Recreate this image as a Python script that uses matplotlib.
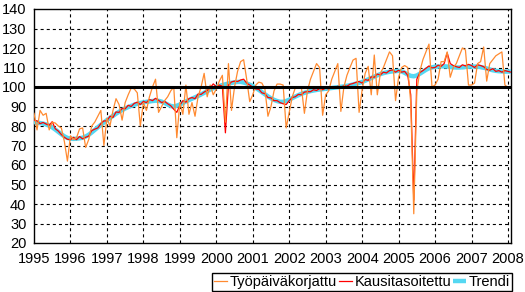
import numpy as np
import matplotlib
matplotlib.use("Agg")
import matplotlib.pyplot as plt

plt.rcParams['font.family'] = ['Liberation Sans', 'DejaVu Sans']
plt.rcParams['lines.scale_dashes'] = False

# Monthly data, Jan 1995 .. Feb 2008
tyopaiva = [
    86.5, 78.0, 88.0, 85.5, 86.5, 78.0, 82.0, 81.5, 80.0, 79.0, 72.0, 62.0,   # 1995
    75.0, 73.0, 74.0, 78.5, 79.0, 69.0, 73.0, 80.0, 82.0, 85.0, 88.0, 70.0,   # 1996
    84.0, 80.0, 88.0, 94.0, 91.0, 83.0, 92.0, 96.0, 99.5, 99.0, 97.0, 80.0,   # 1997
    92.0, 88.0, 95.0, 100.0, 104.0, 87.0, 90.0, 93.0, 95.0, 98.0, 100.0, 74.0,  # 1998
    92.0, 86.0, 101.0, 86.0, 92.0, 85.0, 95.0, 100.0, 107.0, 95.0, 101.0, 96.0,  # 1999
    99.0, 103.0, 106.0, 82.0, 112.0, 88.0, 100.0, 108.0, 113.0, 114.0, 104.0, 92.5,  # 2000
    96.0, 101.0, 102.5, 102.0, 99.0, 85.0, 90.0, 98.0, 101.5, 101.5, 101.0, 79.0,  # 2001
    87.0, 95.0, 99.5, 99.5, 100.0, 86.5, 98.0, 104.0, 108.0, 112.0, 110.0, 85.5,  # 2002
    96.0, 98.0, 104.0, 108.0, 112.0, 87.5, 100.0, 106.0, 110.0, 113.8, 114.7, 87.0,  # 2003
    98.5, 107.0, 110.6, 96.0, 116.4, 96.0, 107.0, 110.0, 114.0, 118.0, 116.0, 93.0,  # 2004
    105.0, 110.0, 111.0, 110.0, 92.0, 35.0, 98.0, 108.0, 114.0, 118.0, 122.0, 100.0,  # 2005
    101.0, 104.0, 113.0, 113.0, 118.0, 105.0, 110.0, 112.0, 116.0, 120.0, 119.0, 101.0,  # 2006
    101.0, 102.0, 112.0, 113.0, 120.5, 103.0, 112.0, 114.0, 116.0, 117.0, 118.0, 101.0,  # 2007
    99.8, 99.8,  # 2008
]
kausitasoitettu = [
    83.0, 82.6, 81.2, 81.8, 81.0, 80.4, 82.2, 78.6, 77.4, 75.6, 74.2, 73.2,
    73.0, 74.2, 73.0, 74.6, 73.4, 74.2, 74.8, 77.6, 78.4, 79.0, 81.2, 82.6,
    82.6, 85.0, 84.4, 87.2, 87.0, 89.0, 88.8, 90.6, 90.0, 91.6, 92.2, 91.0,
    92.6, 92.0, 93.6, 93.0, 94.2, 93.2, 92.0, 92.6, 91.4, 90.4, 88.6, 87.0,
    90.6, 93.0, 92.2, 94.0, 94.6, 94.0, 96.4, 96.2, 97.4, 98.2, 99.6, 101.6,
    100.2, 101.0, 100.4, 76.5, 101.0, 102.6, 103.0, 102.8, 103.6, 104.0, 102.0, 101.0,
    100.0, 99.0, 98.8, 97.0, 96.6, 94.6, 94.4, 93.0, 93.0, 92.0, 91.4, 91.0,
    93.0, 94.6, 95.0, 96.2, 96.0, 97.4, 97.6, 97.6, 98.6, 98.2, 99.2, 98.6,
    99.4, 99.0, 100.0, 99.4, 100.4, 100.0, 100.6, 100.4, 101.4, 101.8, 102.4, 102.8,
    102.0, 103.8, 103.4, 105.2, 105.0, 106.6, 106.2, 107.6, 107.2, 108.4, 108.8, 107.6,
    108.6, 107.6, 108.0, 106.0, 96.0, 42.0, 104.0, 107.4, 108.4, 109.6, 110.8, 109.8,
    110.0, 111.2, 110.6, 112.0, 117.5, 112.0, 111.0, 110.4, 110.0, 111.4, 110.8, 111.6,
    111.0, 110.0, 111.4, 111.0, 110.4, 109.0, 108.6, 109.4, 108.0, 108.4, 107.6, 108.4,
    108.0, 107.6,
]
trendi = [
    82.0, 81.8, 81.5, 81.2, 80.8, 80.2, 79.3, 78.2, 77.0, 75.8, 74.7, 73.9,
    73.5, 73.4, 73.5, 73.7, 74.0, 74.6, 75.5, 76.7, 78.0, 79.3, 80.6, 81.8,
    83.0, 84.1, 85.2, 86.3, 87.3, 88.2, 89.0, 89.7, 90.3, 90.9, 91.4, 91.8,
    92.1, 92.4, 92.6, 92.8, 93.0, 92.9, 92.5, 91.8, 91.0, 90.3, 90.0, 90.4,
    91.0, 91.8, 92.6, 93.3, 94.0, 94.7, 95.4, 96.2, 97.0, 97.9, 98.7, 99.4,
    100.0, 100.5, 101.0, 101.4, 101.8, 102.1, 102.4, 102.6, 102.6, 102.3, 101.8, 101.2,
    100.5, 99.5, 98.5, 97.4, 96.3, 95.2, 94.2, 93.4, 92.8, 92.4, 92.4, 92.8,
    93.5, 94.3, 95.1, 95.8, 96.5, 97.0, 97.5, 97.9, 98.2, 98.5, 98.7, 98.9,
    99.1, 99.3, 99.5, 99.7, 99.9, 100.1, 100.3, 100.6, 100.9, 101.3, 101.7, 102.1,
    102.6, 103.2, 103.9, 104.6, 105.3, 106.0, 106.6, 107.1, 107.5, 107.8, 108.0, 108.1,
    108.3, 108.0, 107.3, 106.4, 105.7, 105.5, 105.9, 106.8, 107.8, 108.8, 109.6, 110.1,
    110.4, 110.5, 110.6, 110.6, 110.5, 110.3, 110.1, 110.0, 110.0, 110.1, 110.3, 110.4,
    110.5, 110.5, 110.4, 110.2, 109.9, 109.5, 109.0, 108.6, 108.3, 108.1, 108.0, 107.9,
    107.9, 107.9,
]
years = list(range(1995, 2009))
yticks = list(range(20, 150, 10))
labels = ["Työpäiväkorjattu", "Kausitasoitettu", "Trendi"]

n = len(trendi)
x = 1995 + np.arange(n) / 12.0

fig = plt.figure(figsize=(5.25, 2.92), dpi=100)
ax = fig.add_axes([34/525, 1-243/292, (511-34)/525, (243-9)/292])

l3, = ax.plot(x, trendi, color='#55D8F2', lw=3.2, zorder=3, solid_capstyle='butt')
l2, = ax.plot(x, kausitasoitettu, color='#FF0000', lw=0.9, zorder=4)
l1, = ax.plot(x, tyopaiva, color='#FF8A30', lw=0.9, zorder=5)
ax.axhline(100, color='black', lw=2.2, zorder=6)

ax.set_xlim(1995, x[-1])
ax.set_ylim(20, 140)
ax.set_xticks(years)
ax.set_xticklabels([str(y) for y in years])
ax.set_yticks(yticks)
ax.tick_params(axis='both', length=0, labelsize=10.5)
ax.tick_params(axis='x', pad=6.5)
ax.tick_params(axis='y', pad=5.5)

for yv in yticks:
    if yv not in (20, 100, 140):
        ax.axhline(yv, color='black', lw=0.8, ls=(0, (2.2, 2.2)), zorder=1)
for xv in years[1:]:
    ax.axvline(xv, color='black', lw=0.8, ls=(0, (2.2, 2.2)), zorder=1)

for s in ax.spines.values():
    s.set_color('black')
    s.set_linewidth(1.0)

leg = fig.legend([l1, l2, l3], labels, loc='lower right',
                 bbox_to_anchor=(512/525, 1/292), ncol=3, fontsize=10.5,
                 handlelength=0.9, handletextpad=0.15, columnspacing=0.15,
                 borderpad=0.15, borderaxespad=0, fancybox=False,
                 framealpha=1, edgecolor='black')
leg.get_frame().set_linewidth(1.0)

fig.savefig('out.png', dpi=100)
